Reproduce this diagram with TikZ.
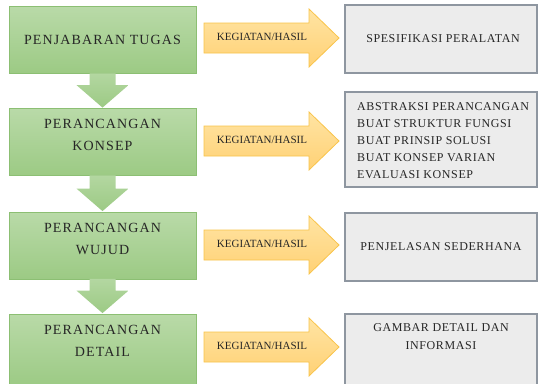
\documentclass[tikz,border=0pt]{standalone}
\usepackage{fontspec}
\setmainfont{Liberation Serif}
\usetikzlibrary{calc}
\definecolor{gtop}{HTML}{B9DAA8}
\definecolor{gbot}{HTML}{9CCA84}
\definecolor{gline}{HTML}{8CBF73}
\definecolor{ytop}{HTML}{FFE4A3}
\definecolor{ybot}{HTML}{FFD175}
\definecolor{yline}{HTML}{F9C44A}
\definecolor{grfill}{HTML}{ECECEC}
\definecolor{grline}{HTML}{8E96A0}
\definecolor{txt}{HTML}{262626}
\begin{document}
\begin{tikzpicture}[x=1pt,y=-1pt,
  gbox/.style={draw=gline,line width=0.8pt,top color=gtop,bottom color=gbot,
    minimum width=187pt,minimum height=67pt,inner sep=0pt},
  gtext/.style={text=txt,align=center,inner sep=0pt,
    font=\fontsize{14}{22}\selectfont\addfontfeature{LetterSpace=8}},
  garrow/.style={top color=gtop!80!gbot,bottom color=gbot},
  yarrow/.style={draw=yline,line width=0.8pt,top color=ytop,bottom color=ybot},
  ytext/.style={text=txt,inner sep=0pt,font=\fontsize{11}{13}\selectfont},
  graybox/.style={draw=grline,line width=1.2pt,fill=grfill,
    minimum width=192pt,inner sep=0pt},
  grtext/.style={text=txt,inner sep=0pt,
    font=\fontsize{12}{17}\selectfont\addfontfeature{LetterSpace=5}}]
\clip (0,0) rectangle (538,383);
\fill[white] (0,0) rectangle (538,383);
% green boxes
\node[gbox] (g1) at (102.5,40) {};
\node[gbox] (g2) at (102.5,142) {};
\node[gbox] (g3) at (102.5,245.5) {};
\node[gbox,minimum height=72pt] (g4) at (102.5,350) {};
\node[gtext] (t1) at (g1.center) {PENJABARAN TUGAS};
\node[gtext] (t2) at ($(g2.north)+(0,27)$) {PERANCANGAN\\KONSEP};
\node[gtext] (t3) at ($(g3.north)+(0,27)$) {PERANCANGAN\\WUJUD};
\node[gtext] (t4) at ($(g4.north)+(0,27)$) {PERANCANGAN\\DETAIL};
% down arrows
\foreach \a/\b in {g1/g2,g2/g3,g3/g4}{
  \path[garrow] ($(\a.south)+(-13,-0.5)$) |- ($(\b.north)+(-26,-23)$)
    -- ($(\b.north)+(0,-0.5)$) -- ($(\b.north)+(26,-23)$) -| ($(\a.south)+(13,-0.5)$) -- cycle;
}
% gray boxes
\node[graybox,minimum height=68pt] (r1) at (441,39) {};
\node[graybox,minimum height=95pt] (r2) at (441,139.5) {};
\node[graybox,minimum height=68pt] (r3) at (441,247) {};
\node[graybox,minimum height=74pt] (r4) at (441,351) {};
\node[grtext] (s1) at ($(r1.center)+(2,0)$) {SPESIFIKASI PERALATAN};
\node[grtext,align=left,anchor=west] (s2) at (357,140.5)
  {ABSTRAKSI PERANCANGAN\\BUAT STRUKTUR FUNGSI\\BUAT PRINSIP SOLUSI\\BUAT KONSEP VARIAN\\EVALUASI KONSEP};
\node[grtext] (s3) at (r3.center) {PENJELASAN SEDERHANA};
\node[grtext,align=center,font=\fontsize{12}{18}\selectfont\addfontfeature{LetterSpace=5}] (s4) at ($(r4.north)+(0,23)$) {GAMBAR DETAIL DAN\\INFORMASI};
% yellow arrows
\foreach \g/\c in {g1/38,g2/141,g3/245,g4/347}{
  \coordinate (ya) at (204,\c);
  \path[yarrow] ($(ya)+(0,-15)$) -- ++(105,0) -- ++(0,-14) -- ($(ya)+(135,0)$)
    -- ($(ya)+(105,29)$) -- ++(0,-14) -- ($(ya)+(0,15)$) -- cycle;
  \node[ytext] at ($(ya)+(58,-1)$) {KEGIATAN/HASIL};
}
\end{tikzpicture}
\end{document}
